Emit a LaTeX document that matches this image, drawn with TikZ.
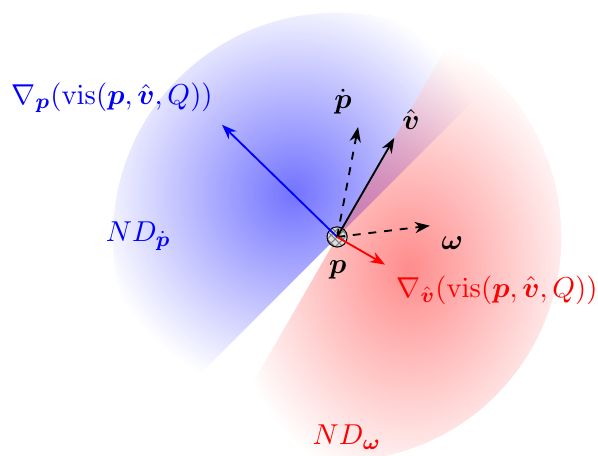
\documentclass[tikz,border=0pt]{standalone}
\usepackage{amsmath,amssymb}
\usetikzlibrary{arrows.meta,patterns}
\definecolor{gradblue}{HTML}{0000FF}
\definecolor{gradred}{HTML}{FF0000}
\tikzset{
  sectorblue/.style={shade,inner color=gradblue,outer color=white,opacity=0.55},
  sectorred/.style={shade,inner color=gradred,outer color=white,opacity=0.45},
  point/.style={circle,draw=black,line width=0.4pt,minimum size=0.27cm,inner sep=0pt,preaction={fill=gray!25},pattern=crosshatch,pattern color=gray},
  vec/.style={-{Stealth[length=2mm,width=1.5mm]},line width=0.7pt},
  vecdash/.style={vec,dashed},
  lbl/.style={inner sep=1pt,font=\fontsize{10.8}{13}\selectfont}
}
\newcommand{\bp}{\boldsymbol{p}}
\newcommand{\bv}{\hat{\boldsymbol{v}}}

\begin{document}
\begin{tikzpicture}[x=1cm,y=1cm]
\path[use as bounding box] (-4.51,-2.93) rectangle (3.49,3.17);
\coordinate (p) at (0,0);
\path[sectorblue] (p) -- (45:3) arc[start angle=45,end angle=225,radius=3] -- cycle;
\path[sectorred] (p) -- (-120:3) arc[start angle=-120,end angle=60,radius=3] -- cycle;
\node[point] (pc) at (p) {};
\coordinate (gp) at (-1.54,1.50);
\coordinate (pdot) at (0.28,1.47);
\coordinate (vh) at (60:1.53);
\coordinate (om) at (1.24,0.15);
\coordinate (gv) at (-30:0.74);
\draw[vec,blue] (p) -- (gp);
\draw[vecdash] (p) -- (pdot);
\draw[vec] (p) -- (vh);
\draw[vecdash] (p) -- (om);
\draw[vec,red] (p) -- (gv);
\node[lbl,text=blue] (gplbl) at (-3.01,1.86) {$\nabla_{\bp}(\mathrm{vis}(\bp,\bv,Q))$};
\node[lbl] (pdotlbl) at (0.08,1.81) {$\dot{\bp}$};
\node[lbl] (vhlbl) at (0.99,1.57) {$\bv$};
\node[lbl] (omlbl) at (1.54,-0.08) {$\boldsymbol{\omega}$};
\node[lbl] (plbl) at (0.01,-0.44) {$\bp$};
\node[lbl,text=red] (gvlbl) at (2.14,-0.71) {$\nabla_{\bv}(\mathrm{vis}(\bp,\bv,Q))$};
\node[lbl,text=blue] (ndp) at (-2.66,0.01) {$ND_{\dot{\bp}}$};
\node[lbl,text=red] (ndw) at (0.13,-2.68) {$ND_{\boldsymbol{\omega}}$};
\end{tikzpicture}
\end{document}
